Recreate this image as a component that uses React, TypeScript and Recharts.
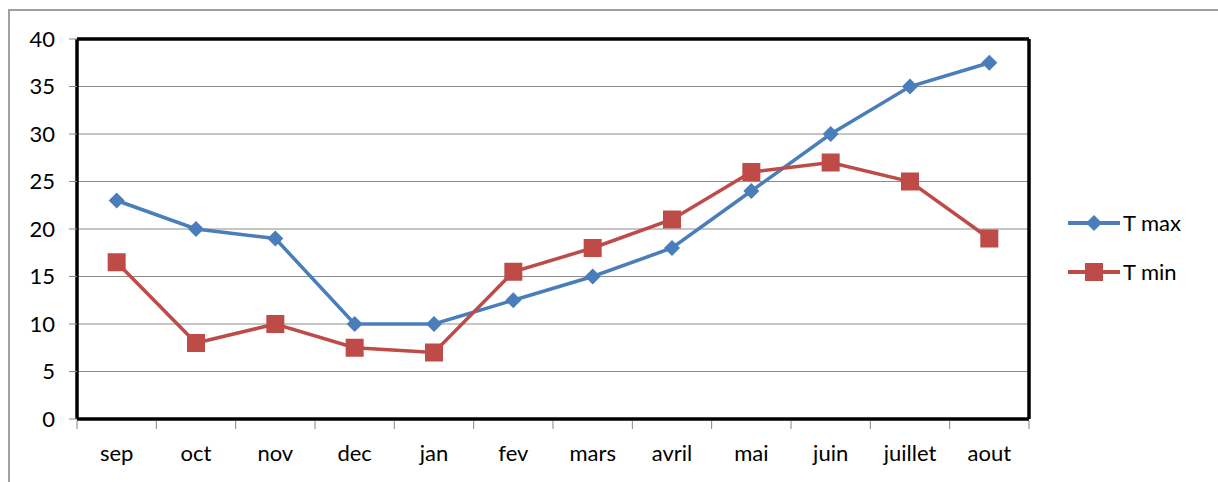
import { LineChart, Line, XAxis, YAxis, CartesianGrid, Legend } from 'recharts';

const months = ['sep', 'oct', 'nov', 'dec', 'jan', 'fev', 'mars', 'avril', 'mai', 'juin', 'juillet', 'aout'];
const tMax = [23, 20, 19, 10, 10, 12.5, 15, 18, 24, 30, 35, 37.5];
const tMin = [16.5, 8, 10, 7.5, 7, 15.5, 18, 21, 26, 27, 25, 19];
const yTicks = [0, 5, 10, 15, 20, 25, 30, 35, 40];

const BLUE = '#4a7ebb';
const RED = '#be4b48';
const FONT = 'Lato, "Open Sans", sans-serif';
const FS = 22;

const data = months.map((m, i) => ({ month: m, tmax: tMax[i], tmin: tMin[i] }));

const W = 1218;
const H = 482;
const PLOT_LEFT = 77;
const PLOT_RIGHT = 1029;
const BAND = (PLOT_RIGHT - PLOT_LEFT) / months.length;
const FRAME = { stroke: '#000', strokeWidth: 3.5 };

function Diamond({ cx, cy }: any) {
  if (cx == null || cy == null) return null;
  const r = 8;
  return <polygon points={`${cx},${cy - r} ${cx + r},${cy} ${cx},${cy + r} ${cx - r},${cy}`} fill={BLUE} />;
}

function Square({ cx, cy }: any) {
  if (cx == null || cy == null) return null;
  const r = 9;
  return <rect x={cx - r} y={cy - r} width={r * 2} height={r * 2} fill={RED} />;
}

function MonthTick({ x, y, payload, index }: any) {
  const left = x - BAND / 2;
  return (
    <g>
      <line x1={left} y1={y - 6} x2={left} y2={y + 2} stroke="#888" strokeWidth={1} />
      {index === months.length - 1 && (
        <line x1={x + BAND / 2} y1={y - 6} x2={x + BAND / 2} y2={y + 2} stroke="#888" strokeWidth={1} />
      )}
      <text x={x} y={y + 34} textAnchor="middle" fill="#000" fontSize={FS} fontFamily={FONT}>
        {payload.value}
      </text>
    </g>
  );
}

function LegendBox() {
  const items = [
    { label: 'T max', color: BLUE, marker: 'diamond' },
    { label: 'T min', color: RED, marker: 'square' },
  ];
  return (
    <div>
      {items.map((it) => (
        <div key={it.label} style={{ display: 'flex', alignItems: 'center', height: 49 }}>
          <svg width={56} height={20}>
            <line x1={2} y1={10} x2={54} y2={10} stroke={it.color} strokeWidth={4} />
            {it.marker === 'diamond' ? (
              <polygon points="28,2 36,10 28,18 20,10" fill={it.color} />
            ) : (
              <rect x={19} y={1} width={18} height={18} fill={it.color} />
            )}
          </svg>
          <span style={{ fontFamily: FONT, fontSize: FS, color: '#000', marginLeft: 1 }}>{it.label}</span>
        </div>
      ))}
    </div>
  );
}

export default function App() {
  return (
    <div style={{ position: 'absolute', left: 0, top: 0, width: W, height: H, overflow: 'hidden', background: '#fff' }}>
      <div
        style={{
          position: 'absolute',
          left: 8,
          top: 9,
          width: W + 50,
          height: H + 50,
          border: '2px solid #a0a0a0',
          boxSizing: 'border-box',
        }}
      />
      <div style={{ position: 'absolute', left: 0, top: 0 }}>
        <LineChart width={W} height={H} data={data} margin={{ top: 38, right: W - PLOT_RIGHT - 1, bottom: 0, left: 0 }}>
          <CartesianGrid vertical={false} stroke="#8c8c8c" strokeWidth={1} />
          <XAxis
            dataKey="month"
            height={63}
            axisLine={FRAME}
            tickLine={false}
            tick={<MonthTick />}
            interval={0}
            padding={{ left: BAND / 2, right: BAND / 2 }}
          />
          <XAxis
            xAxisId="top"
            orientation="top"
            dataKey="month"
            height={1}
            axisLine={FRAME}
            tick={false}
            tickLine={false}
            padding={{ left: BAND / 2, right: BAND / 2 }}
          />
          <YAxis
            width={PLOT_LEFT}
            domain={[0, 40]}
            ticks={yTicks}
            interval={0}
            axisLine={FRAME}
            tickLine={{ stroke: '#888' }}
            tickSize={8}
            tick={{ fill: '#000', fontSize: FS, fontFamily: FONT, dx: -12 }}
          />
          <YAxis
            yAxisId="right"
            orientation="right"
            width={1}
            domain={[0, 40]}
            ticks={yTicks}
            axisLine={FRAME}
            tick={false}
            tickLine={false}
          />
          <Line
            dataKey="tmax"
            stroke={BLUE}
            strokeWidth={3.5}
            dot={<Diamond />}
            activeDot={false}
            isAnimationActive={false}
          />
          <Line
            dataKey="tmin"
            xAxisId="top"
            yAxisId="right"
            stroke={RED}
            strokeWidth={3.5}
            dot={<Square />}
            activeDot={false}
            isAnimationActive={false}
          />
          <Legend
            layout="vertical"
            align="center"
            verticalAlign="middle"
            content={<LegendBox />}
            wrapperStyle={{ position: 'absolute', left: 1066, top: 198, width: 150 }}
          />
        </LineChart>
      </div>
    </div>
  );
}
